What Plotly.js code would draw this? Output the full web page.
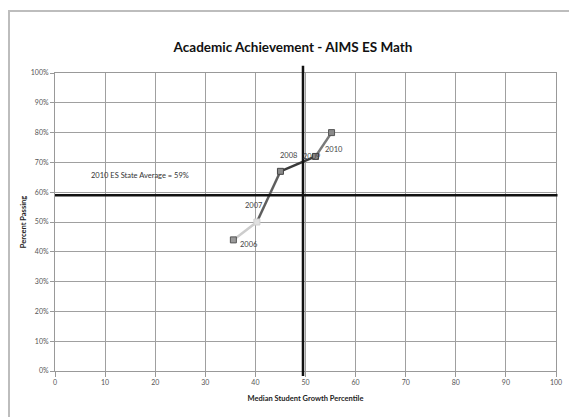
<!DOCTYPE html>
<html>
<head>
<meta charset="utf-8">
<script src="https://cdn.plot.ly/plotly-3.0.1.min.js"></script>
<style>
  html, body { margin: 0; padding: 0; background: #fff; }
  #frame { position: absolute; left: 8px; top: 10px; width: 600px; height: 450px;
           border-left: 2px solid #bdbdbd; border-top: 2px solid #bdbdbd; }
  #chart { position: absolute; left: 0; top: 0; width: 569px; height: 417px; }
</style>
</head>
<body>
<div id="frame"></div>
<div id="chart"></div>
<script>
// School results by year: median growth percentile vs. percent passing
const years = ['2006', '2007', '2008', '2009', '2010'];
const growth = [35.6, 40.3, 45, 52, 55.2];
const passing = [44, 50, 67, 72, 80];

// Colour of each connecting segment (from one year to the next)
const segmentColors = ['#cdcdcd', '#5e5e5e', '#3a3a3a', '#7a7a7a'];
const markerFill = ['#9a9a9a', '#e0e0e0', '#8a8a8a', '#8a8a8a', '#8a8a8a'];
const markerLine = ['#555555', '#d0d0d0', '#444444', '#444444', '#555555'];

// Reference lines
const stateAverage = 59;
const stateAverageLabel = '2010 ES State Average = 59%';
const medianGrowth = 49.5;

// Year label offsets (px) around each point
const labelShift = [[16, -5], [-3, 17], [8, 16], [-4, 0], [2, -17]];

const xTicks = [0, 10, 20, 30, 40, 50, 60, 70, 80, 90, 100];
const yTicks = [0, 10, 20, 30, 40, 50, 60, 70, 80, 90, 100];

const font = 'Lato, "Liberation Sans", sans-serif';

const traces = [];
for (let i = 0; i < years.length - 1; i++) {
  traces.push({
    type: 'scatter', mode: 'lines',
    x: [growth[i], growth[i + 1]], y: [passing[i], passing[i + 1]],
    line: { color: segmentColors[i], width: 2.5 },
    hoverinfo: 'skip', showlegend: false
  });
}
traces.push({
  type: 'scatter', mode: 'markers',
  x: growth, y: passing,
  marker: { symbol: 'square', size: 6, color: markerFill,
            line: { color: markerLine, width: 1 } },
  showlegend: false
});

const annotations = years.map((yr, i) => ({
  x: growth[i], y: passing[i], xref: 'x', yref: 'y',
  text: yr, showarrow: false,
  xshift: labelShift[i][0], yshift: labelShift[i][1],
  font: { family: font, size: 7.5, color: '#444' }
}));
annotations.push({
  x: 17, y: 65.5, xref: 'x', yref: 'y', text: stateAverageLabel,
  showarrow: false, font: { family: font, size: 7.5, color: '#333' }
});

const layout = {
  width: 569, height: 417,
  margin: { l: 55, r: 13, t: 73, b: 46 },
  paper_bgcolor: 'rgba(0,0,0,0)', plot_bgcolor: '#fff',
  title: { text: '<b>Academic Achievement - AIMS ES Math</b>',
           font: { family: font, size: 13.5, color: '#111' },
           x: 0.515, xanchor: 'center', y: 0.886, yanchor: 'middle' },
  xaxis: {
    range: [0, 100], tickvals: xTicks, ticktext: xTicks.map(String),
    showgrid: true, gridcolor: '#a0a0a0', gridwidth: 1,
    showline: true, linecolor: '#999', linewidth: 1, mirror: true,
    ticks: 'outside', ticklen: 5, tickcolor: '#999',
    zeroline: false,
    tickfont: { family: font, size: 7, color: '#555' },
    title: { text: '<b>Median Student Growth Percentile</b>', standoff: 10,
             font: { family: font, size: 7.5, color: '#222' } }
  },
  yaxis: {
    range: [0, 100], tickvals: yTicks, ticktext: yTicks.map(v => v + '%'),
    showgrid: true, gridcolor: '#a0a0a0', gridwidth: 1,
    showline: true, linecolor: '#999', linewidth: 1, mirror: true,
    ticks: 'outside', ticklen: 4, tickcolor: '#999',
    zeroline: false,
    tickfont: { family: font, size: 7, color: '#555' },
    title: { text: '<b>Percent Passing</b>', standoff: 3,
             font: { family: font, size: 7.5, color: '#222' } }
  },
  shapes: [
    { type: 'line', xref: 'paper', yref: 'y', x0: 0, x1: 1.003,
      y0: stateAverage, y1: stateAverage,
      line: { color: '#111', width: 2.5 } },
    { type: 'line', xref: 'x', yref: 'paper', x0: medianGrowth, x1: medianGrowth,
      y0: -0.017, y1: 1.024,
      line: { color: '#111', width: 2.5 } }
  ],
  annotations: annotations
};

Plotly.newPlot('chart', traces, layout, { displayModeBar: false, staticPlot: true });
</script>
</body>
</html>
